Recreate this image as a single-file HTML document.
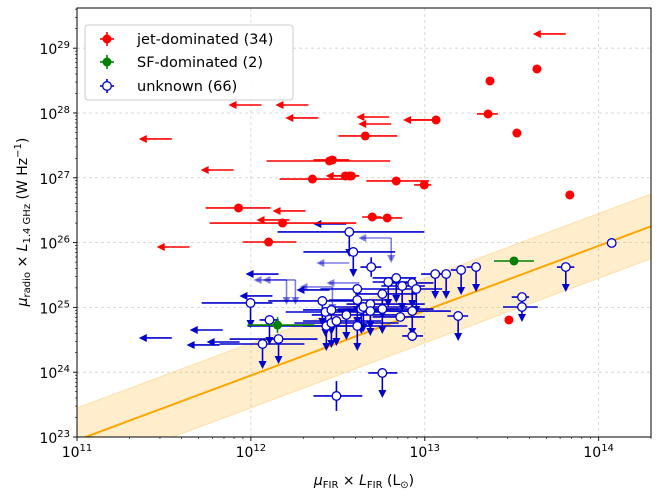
<!DOCTYPE html>
<html><head><meta charset="utf-8"><style>
html,body{margin:0;padding:0;background:#fff;}
svg{display:block;font-family:"DejaVu Sans","Liberation Sans",sans-serif;}
</style></head><body>
<svg id="chart" width="664" height="498" viewBox="0 0 664 498"></svg>
<script>
// ---- data (log10 values) ----
const redX=[12.658,12.452,12.469,12.354,12.543,12.566,12.578,12.836,12.997,13.375,13.645,13.364,13.530,13.834,12.698,12.784,11.929,12.182,12.102,13.484,13.065];
const redY=[27.645,27.259,27.275,26.981,27.028,27.028,27.028,26.951,26.889,28.494,28.679,27.985,27.691,26.735,26.395,26.380,26.534,26.302,26.009,24.806,27.892];
const redXLo=[12.503,12.090,12.360,12.165,12.480,12.54,12.55,12.664,12.939,13.375,13.645,13.30,13.530,13.834,12.64,12.70,11.740,11.763,11.952,13.484,12.888];
const redXHi=[12.842,12.801,12.566,12.566,12.624,12.59,12.60,13.025,13.037,13.375,13.67,13.42,13.530,13.834,12.75,12.87,12.113,12.606,12.262,13.484,13.065];
const redLimX=[12.061,12.331,12.388,11.545,11.901,12.314,12.222,11.648,12.796,12.807,13.811,12.62];
const redLimY=[28.123,28.123,27.923,27.599,27.120,26.488,26.349,25.932,27.938,27.830,29.219,27.03];
const greenX=[13.513,12.153];
const greenY=[25.716,24.728];
const greenXLo=[13.398,11.981];
const greenXHi=[13.628,12.365];
const greenYErr=[0.03,0.12];
const blueX=[12.566,12.589,12.692,11.998,12.107,12.159,12.067,12.492,12.756,13.192,12.928,13.060,13.123,13.209,13.295,14.075,13.811,13.559,13.559,
 12.411,12.429,12.463,12.434,12.463,12.492,12.549,12.612,12.612,12.612,12.635,12.647,12.687,12.687,12.756,12.756,12.790,12.836,12.870,12.928,12.951,12.859,12.928];
const blueY=[26.164,25.855,25.623,25.068,24.806,24.512,24.435,23.633,23.988,24.867,24.559,25.515,25.515,25.577,25.623,25.994,25.623,25.160,25.006,
 25.099,24.929,24.960,24.713,24.759,24.790,24.883,25.284,25.114,24.713,24.975,25.006,25.052,24.944,25.207,24.975,25.392,25.454,25.330,25.377,25.284,24.852,24.944];
const blueXLo=[12.153,12.302,12.63,11.717,12.05,11.878,11.820,12.360,12.675,13.13,12.87,12.979,13.06,13.15,13.24,14.075,13.76,13.50,13.45,
 12.10,12.20,12.30,11.98,12.25,12.30,12.35,12.40,12.45,12.30,12.50,12.45,12.55,12.50,12.60,12.55,12.70,12.70,12.75,12.80,12.85,12.70,12.80];
const blueXHi=[12.997,12.830,12.75,12.124,12.16,12.383,12.308,12.641,12.842,13.25,12.99,13.140,13.123,13.209,13.295,14.075,13.86,13.60,13.65,
 12.60,12.75,12.80,12.70,12.85,12.75,12.85,12.85,12.80,12.90,12.85,12.90,13.00,12.95,12.95,13.05,12.95,12.95,13.00,13.05,13.10,13.00,13.15];
const blueUL=[1,1,0,1,1,1,1,0,1,1,0,1,1,1,1,0,1,1,0, 1,1,1,1,1,1,1,1,1,1,1,1,1,1,1,1,1,1,1,1,1,0,1];
const blueYErr=[0,0,0.15,0,0,0,0,0.23,0,0,0.08,0,0,0,0,0,0,0,0, 0,0,0,0,0,0,0,0,0,0,0,0,0,0,0,0,0,0,0,0,0,0,0.05];
const blueLimX=[12.159,12.124,11.838,11.545,12.549,11.820,11.935,12.452];
const blueLimY=[25.515,25.176,24.651,24.528,26.287,24.420,24.466,25.269];
const lightX=[12.807,12.566,12.256,12.205,12.624,12.469];
const lightY=[26.071,25.685,25.423,25.423,25.377,25.315];
const lightDown=[1,0,1,1,0,1];
const fitIntercept=11.95, fitScatter=0.5;
const xTicks=[11,12,13,14], yTicks=[23,24,25,26,27,28,29];

// ---- axes ----
const L=77,R=651,T=8,B=437;
const xMin=11,xMax=Math.log10(2e14),yMin=23,yMax=29.62;
const sx=v=>L+(v-xMin)/(xMax-xMin)*(R-L);
const sy=v=>B-(v-yMin)/(yMax-yMin)*(B-T);
const svg=document.getElementById('chart');
const NS='http://www.w3.org/2000/svg';
function mk(tag,at,parent){const e=document.createElementNS(NS,tag);for(const k in at)e.setAttribute(k,at[k]);(parent||svg).appendChild(e);return e;}
const defs=mk('defs',{});
const cp=mk('clipPath',{id:'clip'},defs);mk('rect',{x:L,y:T,width:R-L,height:B-T},cp);

// grid
const grid=mk('g',{});


xTicks.forEach(t=>mk('line',{x1:sx(t),x2:sx(t),y1:T,y2:B,stroke:'#b0b0b0','stroke-width':0.8,'stroke-dasharray':'3,3',opacity:0.6},grid));
yTicks.forEach(t=>mk('line',{x1:L,x2:R,y1:sy(t),y2:sy(t),stroke:'#b0b0b0','stroke-width':0.8,'stroke-dasharray':'3,3',opacity:0.6},grid));

// band + fit
const plot=mk('g',{'clip-path':'url(#clip)'});
const band=mk('polygon',{points:[[xMin,xMin+fitIntercept+fitScatter],[xMax,xMax+fitIntercept+fitScatter],[xMax,xMax+fitIntercept-fitScatter],[xMin,xMin+fitIntercept-fitScatter]].map(p=>sx(p[0])+','+sy(p[1])).join(' '),fill:'#ffa500','fill-opacity':0.2,stroke:'#ffa500','stroke-opacity':0.25},plot);


const fit=mk('line',{x1:sx(xMin),y1:sy(xMin+fitIntercept),x2:sx(xMax),y2:sy(xMax+fitIntercept),stroke:'#ffa500','stroke-width':2},plot);



function leftArrow(g,x,y,c,op){const px=sx(x),py=sy(y);mk('line',{x1:px,y1:py,x2:px-30,y2:py,stroke:c,'stroke-width':1.6,opacity:op},g);mk('polygon',{points:`${px-33},${py} ${px-25},${py-4} ${px-25},${py+4}`,fill:c,opacity:op},g);}
function downArrow(g,x,y,c,op){const px=sx(x),py=sy(y);mk('line',{x1:px,y1:py,x2:px,y2:py+22,stroke:c,'stroke-width':1.6,opacity:op},g);mk('polygon',{points:`${px},${py+25} ${px-4},${py+17} ${px+4},${py+17}`,fill:c,opacity:op},g);}

// light (alpha) series
const lg=mk('g',{},plot);


lightX.forEach((x,i)=>{leftArrow(lg,x,lightY[i],'#0000cd',0.5);if(lightDown[i])downArrow(lg,x,lightY[i],'#0000cd',0.5);});

// blue
const bg=mk('g',{},plot);


blueLimX.forEach((x,i)=>leftArrow(bg,x,blueLimY[i],'#0000cd',1));
blueX.forEach((x,i)=>{const y=blueY[i];
 mk('line',{x1:sx(blueXLo[i]),x2:sx(blueXHi[i]),y1:sy(y),y2:sy(y),stroke:'#0000cd','stroke-width':1.6},bg);
 if(blueYErr[i])mk('line',{x1:sx(x),x2:sx(x),y1:sy(y-blueYErr[i]),y2:sy(y+blueYErr[i]),stroke:'#0000cd','stroke-width':1.6},bg);
 if(blueUL[i])downArrow(bg,x,y,'#0000cd',1);});
blueX.forEach((x,i)=>{const c=mk('circle',{cx:sx(x),cy:sy(blueY[i]),r:4.3,fill:'#fff',stroke:'#0000cd','stroke-width':1.3},bg);
 
 });

// green
const gg=mk('g',{},plot);


greenX.forEach((x,i)=>{const y=greenY[i];
 mk('line',{x1:sx(greenXLo[i]),x2:sx(greenXHi[i]),y1:sy(y),y2:sy(y),stroke:'#008000','stroke-width':1.6},gg);
 mk('line',{x1:sx(x),x2:sx(x),y1:sy(y-greenYErr[i]),y2:sy(y+greenYErr[i]),stroke:'#008000','stroke-width':1.6},gg);
 const c=mk('circle',{cx:sx(x),cy:sy(y),r:4.5,fill:'#008000'},gg);
 
 });

// red
const rg=mk('g',{},plot);


redLimX.forEach((x,i)=>leftArrow(rg,x,redLimY[i],'#ff0000',1));
redX.forEach((x,i)=>{const y=redY[i];
 mk('line',{x1:sx(redXLo[i]),x2:sx(redXHi[i]),y1:sy(y),y2:sy(y),stroke:'#ff0000','stroke-width':1.6},rg);
 if(i===20)leftArrow(rg,x,y,'#ff0000',1);
 const c=mk('circle',{cx:sx(x),cy:sy(y),r:4.5,fill:'#ff0000'},rg);
 
 });

// frame
mk('rect',{x:L,y:T,width:R-L,height:B-T,fill:'none',stroke:'#000','stroke-width':1});

// ticks
const ax=mk('g',{});


for(let d=11;d<=14;d++)for(let m=1;m<10;m++){const v=d+Math.log10(m);if(v>xMax)break;const p=sx(v);mk('line',{x1:p,x2:p,y1:B,y2:B+(m===1?4:2),stroke:'#000','stroke-width':m===1?0.9:0.6},ax);}
xTicks.forEach(t=>{const tx=mk('text',{x:sx(t),y:B+20,'text-anchor':'middle','font-size':14,fill:'#000'},ax);tx.innerHTML=`10<tspan dy="-6" font-size="10">${t}</tspan>`;
 
 });
const ay=mk('g',{});


for(let d=23;d<=29;d++)for(let m=1;m<10;m++){const v=d+Math.log10(m);if(v>yMax)break;const p=sy(v);mk('line',{x1:L,x2:L-(m===1?4:2),y1:p,y2:p,stroke:'#000','stroke-width':m===1?0.9:0.6},ay);}
yTicks.forEach(t=>{const tx=mk('text',{x:L-7,y:sy(t)+6,'text-anchor':'end','font-size':14,fill:'#000'},ay);tx.innerHTML=`10<tspan dy="-6" font-size="10">${t}</tspan>`;
 
 });
</script>
<svg width="664" height="498" style="position:absolute;left:0;top:0;font-family:'DejaVu Sans','Liberation Sans',sans-serif">
 <text x="364" y="485" text-anchor="middle" font-size="14"><tspan font-style="italic">μ</tspan><tspan dy="3" font-size="10">FIR</tspan><tspan dy="-3"> × </tspan><tspan font-style="italic">L</tspan><tspan dy="3" font-size="10">FIR</tspan><tspan dy="-3"> (L</tspan><tspan dy="3" font-size="10">⊙</tspan><tspan dy="-3">)</tspan></text>
 <text transform="translate(27,222) rotate(-90)" text-anchor="middle" font-size="14"><tspan font-style="italic">μ</tspan><tspan dy="3" font-size="10">radio</tspan><tspan dy="-3"> × </tspan><tspan font-style="italic">L</tspan><tspan dy="3" font-size="10">1.4 GHz</tspan><tspan dy="-3"> (W Hz</tspan><tspan dy="-6" font-size="10">−1</tspan><tspan dy="6">)</tspan></text>
 <g>
  <rect x="85" y="25" width="208" height="75" rx="3" fill="#fff" fill-opacity="0.85" stroke="#ccc"/>
  <g>
   <line x1="100" x2="114" y1="39" y2="39" stroke="#f00" stroke-width="1.6"/><line x1="107" x2="107" y1="32" y2="46" stroke="#f00" stroke-width="1.6"/><circle cx="107" cy="39" r="4.5" fill="#f00"/>
   <text x="137" y="44" font-size="14.5">jet-dominated (34)</text></g>
  <g>
   <line x1="100" x2="114" y1="62" y2="62" stroke="#008000" stroke-width="1.6"/><line x1="107" x2="107" y1="55" y2="69" stroke="#008000" stroke-width="1.6"/><circle cx="107" cy="62" r="4.5" fill="#008000"/>
   <text x="137" y="67" font-size="14.5">SF-dominated (2)</text></g>
  <g>
   <line x1="100" x2="114" y1="86" y2="86" stroke="#0000cd" stroke-width="1.6"/><line x1="107" x2="107" y1="79" y2="93" stroke="#0000cd" stroke-width="1.6"/><circle cx="107" cy="86" r="4.3" fill="#fff" stroke="#0000cd" stroke-width="1.3"/>
   <text x="137" y="91" font-size="14.5">unknown (66)</text></g>
 </g>
</svg>
</body></html>
